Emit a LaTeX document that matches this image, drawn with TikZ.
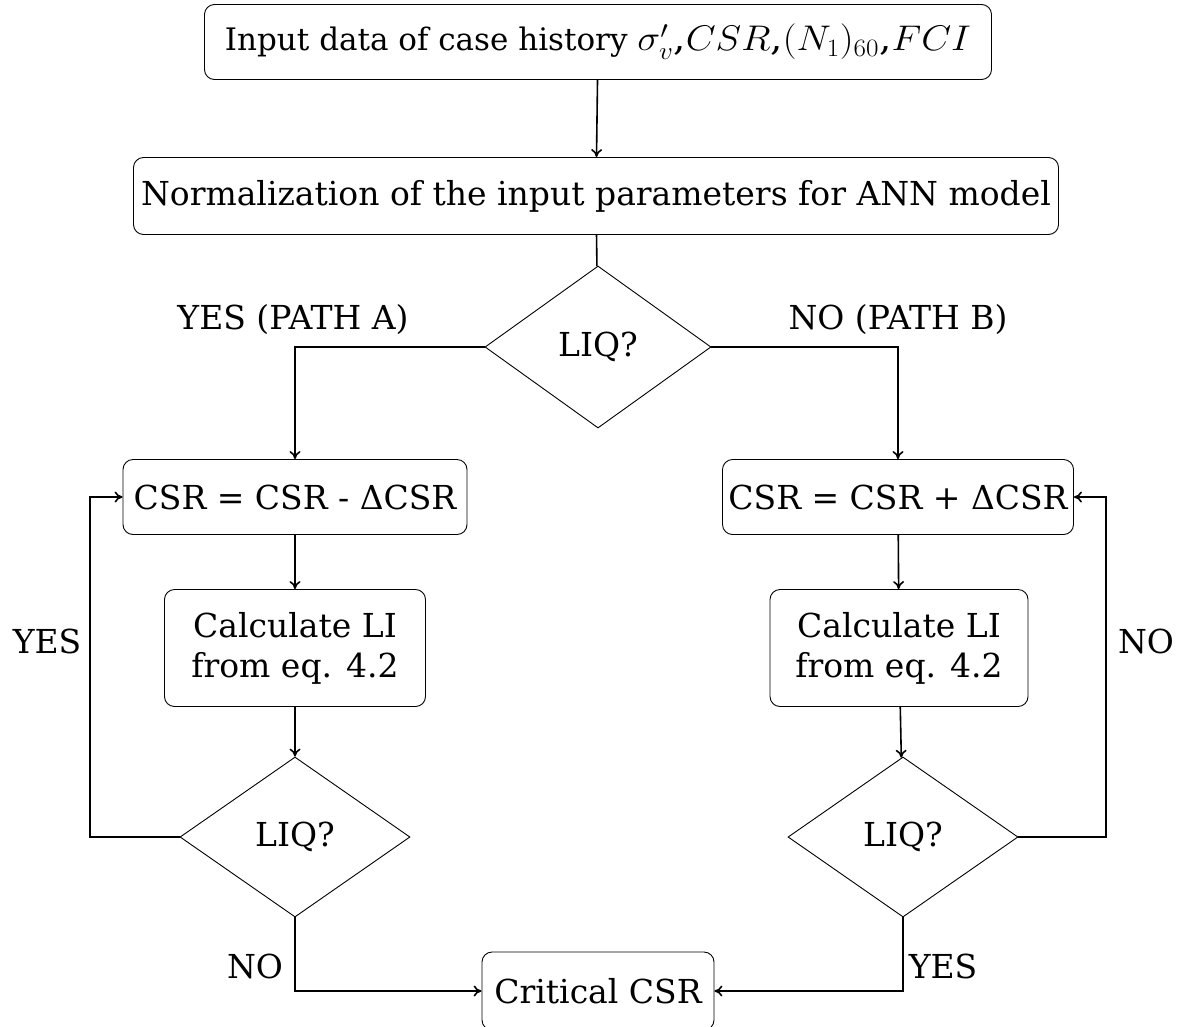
\RequirePackage{fix-cm}
\documentclass[tikz,border=0pt]{standalone}
\usepackage{fontspec}
\setmainfont{DejaVu Serif}
\usetikzlibrary{shapes.geometric,arrows.meta}
\begin{document}
\begin{tikzpicture}[x=1pt,y=-1pt,
  every node/.style={font=\fontsize{33}{40}\selectfont},
  box/.style={draw,rounded corners=10pt,line width=0.9pt,inner sep=0pt,align=center},
  decision/.style={draw,diamond,line width=0.9pt,inner sep=0pt},
  flow/.style={-{To[length=8pt,width=11pt]},line width=1.6pt},
  plain/.style={line width=1.6pt},
  lbl/.style={inner sep=0pt}]
\useasboundingbox (0,0) rectangle (1183,1026);

\node[box,minimum width=787,minimum height=75,font=\fontsize{31}{38}\selectfont] (input) at (598,42)
  {Input data of case history \scalebox{1.25}[1.15]{$\sigma_v'$,$CSR$,$(N_1)_{60}$,$FCI$}};
\node[box,minimum width=925,minimum height=77] (norm) at (596,196)
  {Normalization of the input parameters for ANN model};
\node[decision,minimum width=226,minimum height=162] (liq) at (598,347) {LIQ?};

\node[box,minimum width=344,minimum height=75] (csrA) at (295,497) {CSR = CSR - ΔCSR};
\node[box,minimum width=351,minimum height=75] (csrB) at (898,497) {CSR = CSR + ΔCSR};
\node[box,minimum width=261,minimum height=117] (calcA) at (295,648) {Calculate LI\\from eq. 4.2};
\node[box,minimum width=258,minimum height=117] (calcB) at (899,648) {Calculate LI\\from eq. 4.2};
\node[decision,minimum width=230,minimum height=160] (liqA) at (295,837) {LIQ?};
\node[decision,minimum width=230,minimum height=160] (liqB) at (903,837) {LIQ?};
\node[box,minimum width=232,minimum height=78] (crit) at (598,991) {Critical CSR};

\coordinate (loopA) at (90,837);
\coordinate (loopB) at (1106,837);

\draw[flow] (input) -- (norm);
\draw[plain] (norm) -- (liq);
\draw[flow] (liq.west) -| (csrA.north);
\draw[flow] (liq.east) -| (csrB.north);
\draw[flow] (csrA) -- (calcA);
\draw[flow] (csrB) -- (calcB);
\draw[flow] (calcA) -- (liqA);
\draw[flow] (calcB) -- (liqB);
\draw[flow] (liqA.west) -- (loopA) |- (csrA.west);
\draw[flow] (liqB.east) -- (loopB) |- (csrB.east);
\draw[flow] (liqA.south) |- (crit.west);
\draw[flow] (liqB.south) |- (crit.east);

\node[lbl] (pathA) at (293,320) {YES (PATH A)};
\node[lbl] (pathB) at (898,320) {NO (PATH B)};
\node[lbl] (yesA) at (47,641) {YES};
\node[lbl] (noB) at (1146,641) {NO};
\node[lbl] (noA) at (255,966) {NO};
\node[lbl] (yesB) at (943,966) {YES};
\end{tikzpicture}
\end{document}
